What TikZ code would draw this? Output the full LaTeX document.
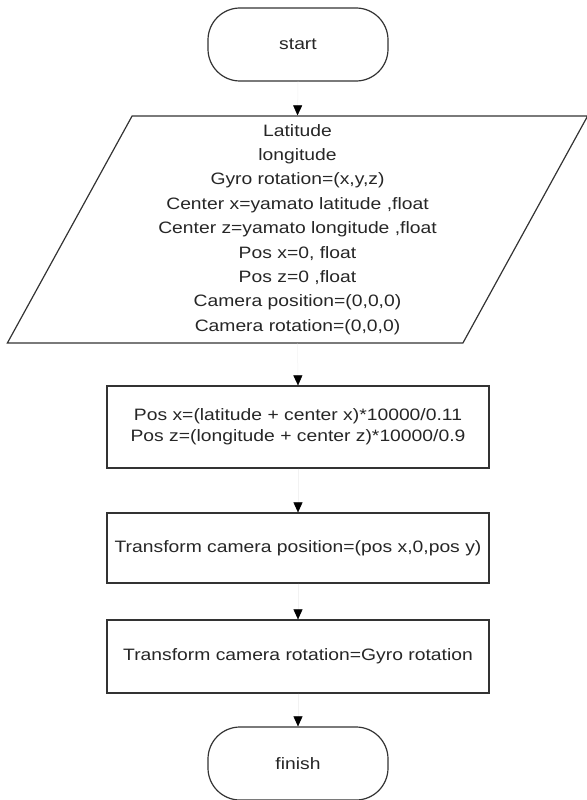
\documentclass[tikz,border=0pt]{standalone}
\usepackage{fontspec}
\setmainfont{Liberation Sans}[FakeStretch=1.17]
\usetikzlibrary{shapes.geometric}
\usetikzlibrary{arrows.meta}

\begin{document}
\begin{tikzpicture}[x=1pt, y=-1pt]
        % ================= styles =================
        % terminals, input box, process boxes, connectors
        \tikzset{
            term/.style={draw=black!80, line width=1.2pt, rounded corners=32pt, text=black!85,
                minimum width=180pt, minimum height=73pt, font=\fontsize{16.5}{20}\selectfont},
            iobox/.style={draw=black!80, line width=1.2pt, trapezium, trapezium left angle=63.5,
                trapezium right angle=116.5, trapezium stretches=true, inner sep=0pt, text=black!85,
                minimum width=581pt, minimum height=227pt, align=center, font=\fontsize{16.5}{24.4}\selectfont},
            procbox/.style={draw=black!80, line width=1.2pt, minimum width=382pt, inner sep=2pt, text=black!85,
                align=center, font=\fontsize{16.5}{21}\selectfont},
            flow/.style={draw=black!5, line width=0.5pt, -{Triangle[width=9pt, length=10pt, color=black]}}
        }

        % ================= drawing =================
        \useasboundingbox (0,0) rectangle (586,800);

        % start: top, rounded
        \node[term] (start) at (298, 44.5) {start};

        % input values: parallelogram
        \node[iobox] (input) at (297.5, 229.5) {Latitude\\ longitude\\ Gyro rotation=(x,y,z)\\
            Center x=yamato latitude ,float\\ Center z=yamato longitude ,float\\
            Pos x=0, float\\ Pos z=0 ,float\\ Camera position=(0,0,0)\\ Camera rotation=(0,0,0)};

        % position calculation
        \node[procbox, minimum height=82pt] (calc) at (298, 427)
            {Pos x=(latitude + center x)*10000/0.11\\ Pos z=(longitude + center z)*10000/0.9};

        % camera position
        \node[procbox, minimum height=70pt] (campos) at (298, 548)
            {Transform camera position=(pos x,0,pos y)};

        % camera rotation
        \node[procbox, minimum height=73pt] (camrot) at (298, 656.5)
            {Transform camera rotation=Gyro rotation};

        % finish: bottom, rounded
        \node[term] (finish) at (298, 763.5) {finish};

        % connectors
        \draw[flow] (start.south) -- (input.north);
        \draw[flow] (input.south) -- (calc.north);
        \draw[flow] (calc.south) -- (campos.north);
        \draw[flow] (campos.south) -- (camrot.north);
        \draw[flow] (camrot.south) -- (finish.north);

    \end{tikzpicture}
\end{document}
